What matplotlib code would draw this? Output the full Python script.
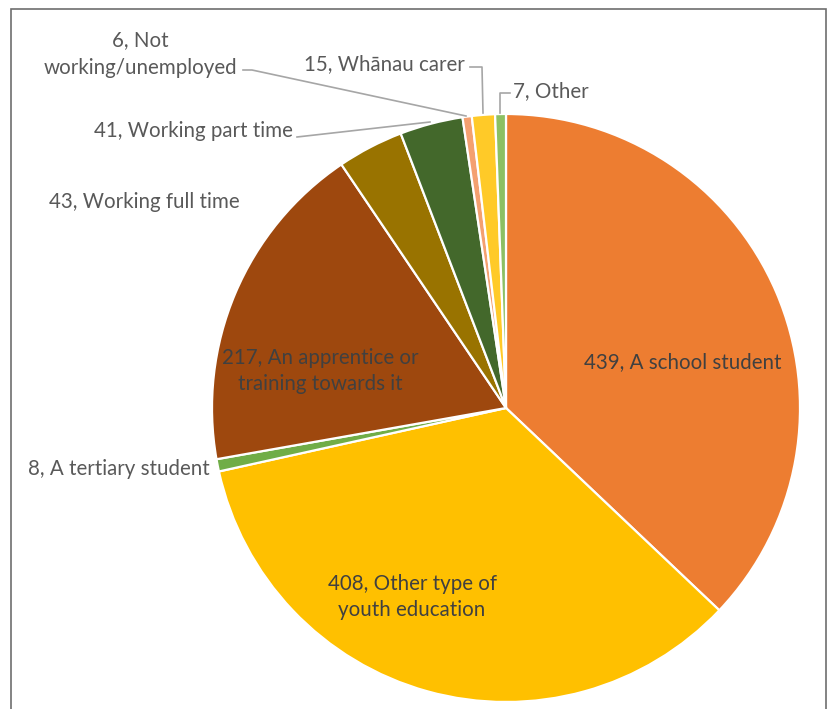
import matplotlib
matplotlib.use('Agg')
import matplotlib.pyplot as plt
from matplotlib.patches import Rectangle

plt.rcParams['font.family'] = ['Lato', 'DejaVu Sans']

# data (clockwise from 12 o'clock)
labels = ['A school student', 'Other type of\nyouth education', 'A tertiary student',
          'An apprentice or\ntraining towards it', 'Working full time', 'Working part time',
          'Not\nworking/unemployed', 'Whānau carer', 'Other']
counts = [439, 408, 8, 217, 43, 41, 6, 15, 7]
colors = ['#ED7D31', '#FFC000', '#70AD47', '#9E480E', '#997300', '#43682B',
          '#F4A070', '#FFCA28', '#8CC063']

W, H = 830, 709
fig = plt.figure(figsize=(W / 100, H / 100), dpi=100)
ax = fig.add_axes([0, 0, 1, 1])

def Y(y):  # pixel row -> data y
    return H - y

cx, cy, r = 506, 408, 294
ax.pie(counts, colors=colors, startangle=90, counterclock=False,
       center=(cx, Y(cy)), radius=r, frame=True,
       wedgeprops=dict(edgecolor='white', linewidth=1.6))
ax.set_xlim(0, W)
ax.set_ylim(0, H)
ax.set_aspect('equal')
ax.axis('off')

# frame round the chart
ax.add_patch(Rectangle((11, Y(712)), 815, 703, fill=False, edgecolor='#6e6e6e', lw=1.2))

fs = 14.8
inner = '#404040'
outer = '#595959'
txt = [f'{c}, {l}' for c, l in zip(counts, labels)]

ax.text(683, Y(362), txt[0], ha='center', va='center', fontsize=fs, color=inner)
ax.text(412, Y(597), txt[1], ha='center', va='center', fontsize=fs, color=inner, linespacing=1.4)
ax.text(210, Y(469), txt[2], ha='right', va='center', fontsize=fs, color=outer)
ax.text(320, Y(371), txt[3], ha='center', va='center', fontsize=fs, color=inner, linespacing=1.4)
ax.text(240, Y(202), txt[4], ha='right', va='center', fontsize=fs, color=outer)
ax.text(293, Y(131), txt[5], ha='right', va='center', fontsize=fs, color=outer)
ax.text(140, Y(54), txt[6], ha='center', va='center', fontsize=fs, color=outer, linespacing=1.45)
ax.text(465, Y(64), txt[7], ha='right', va='center', fontsize=fs, color=outer)
ax.text(513, Y(91), txt[8], ha='left', va='center', fontsize=fs, color=outer)

# leader lines
lc = '#A6A6A6'
ax.plot([297, 430], [Y(137), Y(122)], color=lc, lw=1.2)
ax.plot([243, 252, 466], [Y(70), Y(70), Y(116)], color=lc, lw=1.2)
ax.plot([470, 482, 483], [Y(67), Y(67), Y(113)], color=lc, lw=1.2)
ax.plot([510, 500, 500], [Y(93), Y(93), Y(113)], color=lc, lw=1.2)

fig.savefig('out.png', dpi=100)
